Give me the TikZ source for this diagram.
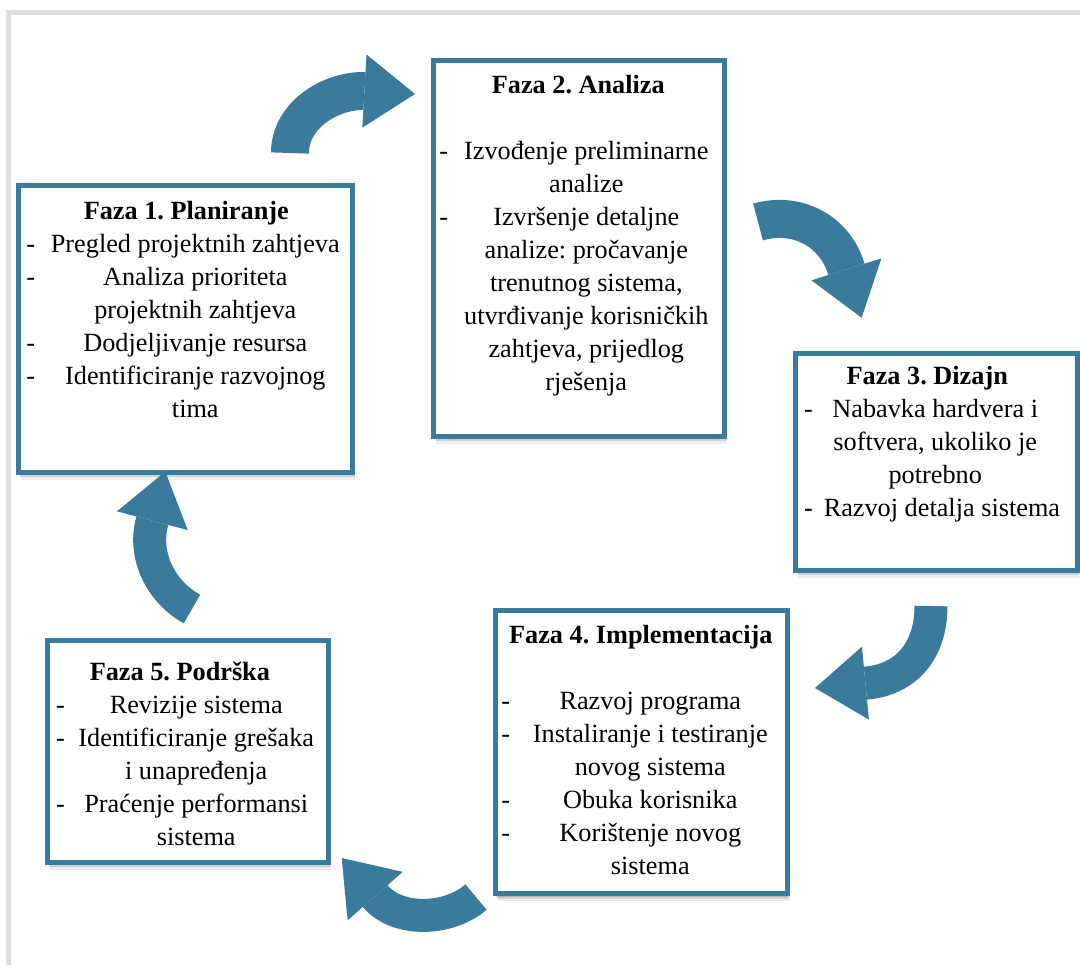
\documentclass[tikz,border=0pt]{standalone}
\usepackage{fontspec}
\setmainfont{Liberation Serif}
\usepackage{array}
\usetikzlibrary{positioning,shadows,arrows.meta}
\frenchspacing

\definecolor{fazaplava}{RGB}{58,122,156}
\definecolor{okvirsiva}{RGB}{221,221,221}

\tikzstyle{fazabox} = [draw=fazaplava, fill=white, line width=3.75pt,
    rectangle, anchor=north west, inner sep=0pt,
    drop shadow={shadow xshift=2.5pt, shadow yshift=-6pt, opacity=0.07, fill=black},
    drop shadow={shadow xshift=1.5pt, shadow yshift=-4pt, opacity=0.12, fill=black},
    drop shadow={shadow xshift=1pt, shadow yshift=-2.5pt, opacity=0.15, fill=black}]
\tikzstyle{fazatekst} = [inner sep=0pt, font=\fontsize{19.7pt}{24.75pt}\selectfont]
\tikzstyle{strelica} = [draw=fazaplava, line width=24.75pt,
    -{Triangle[width=55pt,length=38pt,line width=0pt]}]

\begin{document}
\begin{tikzpicture}[x=0.75pt, y=-0.75pt]
\useasboundingbox (0,0) rectangle (1080,965);
\draw[okvirsiva, line width=3.75pt] (8.5,965) -- (8.5,12.5) -- (1080,12.5);

% Faza 1
\node[fazabox, minimum width=250.5pt, minimum height=214.9pt] (faza1) at (15.5,183) {};
\node[fazatekst, below right=9.6pt and 7.9pt of faza1.north west] (faza1tekst) {%
  \begin{tabular}{@{}w{l}{13.5pt}@{}w{c}{226.5pt}@{}}
    \multicolumn{2}{@{}c@{}}{\textbf{Faza 1. Planiranje}}\\
    - & Pregled projektnih zahtjeva\\
    - & Analiza prioriteta\\
      & projektnih zahtjeva\\
    - & Dodjeljivanje resursa\\
    - & Identificiranje razvojnog\\
      & tima
  \end{tabular}
};

% Faza 2
\node[fazabox, minimum width=218.25pt, minimum height=282pt] (faza2) at (430.5,57.5) {};
\node[fazatekst, below right=9.2pt and 6.4pt of faza2.north west] (faza2tekst) {%
  \begin{tabular}{@{}w{l}{12pt}@{}w{c}{196.5pt}@{}}
    \multicolumn{2}{@{}c@{}}{\textbf{Faza 2. Analiza}}\\
      & \\
    - & Izvođenje preliminarne\\
      & analize\\
    - & Izvršenje detaljne\\
      & analize: pročavanje\\
      & trenutnog sistema,\\
      & utvrđivanje korisničkih\\
      & zahtjeva, prijedlog\\
      & rješenja
  \end{tabular}
};

% Faza 3
\node[fazabox, minimum width=211.5pt, minimum height=162.75pt] (faza3) at (792.5,350.5) {};
\node[fazatekst, below right=7.7pt and 8.6pt of faza3.north west] (faza3tekst) {%
  \begin{tabular}{@{}w{l}{12pt}@{}w{c}{172.5pt}@{}}
    \multicolumn{2}{@{}c@{}}{\textbf{Faza 3. Dizajn}}\\
    - & Nabavka hardvera i\\
      & softvera, ukoliko je\\
      & potrebno\\
    - & \hspace*{10pt}Razvoj detalja sistema
  \end{tabular}
};

% Faza 4
\node[fazabox, minimum width=219pt, minimum height=212.6pt] (faza4) at (492.5,607.5) {};
\node[fazatekst, below right=9.2pt and 6.4pt of faza4.north west] (faza4tekst) {%
  \begin{tabular}{@{}w{l}{14.25pt}@{}w{c}{195pt}@{}}
    \multicolumn{2}{@{}c@{}}{\textbf{Faza 4. Implementacija}}\\
      & \\
    - & Razvoj programa\\
    - & Instaliranje i testiranje\\
      & novog sistema\\
    - & Obuka korisnika\\
    - & Korištenje novog\\
      & sistema
  \end{tabular}
};

% Faza 5
\node[fazabox, minimum width=210.75pt, minimum height=166.5pt] (faza5) at (44.5,637.5) {};
\node[fazatekst, below right=14.5pt and 8.6pt of faza5.north west] (faza5tekst) {%
  \begin{tabular}{@{}w{l}{10.5pt}@{}w{c}{189pt}@{}}
    \multicolumn{2}{@{}c@{}}{\textbf{Faza 5. Podrška}\hspace*{14pt}}\\
    - & Revizije sistema\\
    - & Identificiranje grešaka\\
      & i unapređenja\\
    - & Praćenje performansi\\
      & sistema
  \end{tabular}
};

% strelice
\coordinate (p12) at (290,153);
\coordinate (b12) at (363,91);
\coordinate (k12) at (415,94);
\draw[strelica, line width=28.5pt] (p12) .. controls (290,115) and (330,91) .. (b12) -- (k12);

\coordinate (p23) at (758,222);
\coordinate (b23) at (846,268);
\coordinate (k23) at (861.6,317.7);
\draw[strelica, line width=28.5pt] (p23) .. controls (796,211) and (834,230) .. (b23) -- (k23);

\coordinate (p34) at (931,606);
\coordinate (b34) at (867,683);
\coordinate (k34) at (815,688);
\draw[strelica] (p34) .. controls (931,650) and (907,679) .. (b34) -- (k34);

\coordinate (p45) at (476,897);
\coordinate (b45) at (376,897);
\coordinate (k45) at (341.7,858);
\draw[strelica] (p45) .. controls (450,920) and (399,923) .. (b45) -- (k45);

\coordinate (p51) at (192,609);
\coordinate (b51) at (152,522);
\coordinate (k51) at (165.3,471.7);
\draw[strelica] (p51) .. controls (161,592) and (143,556) .. (b51) -- (k51);

\end{tikzpicture}
\end{document}
